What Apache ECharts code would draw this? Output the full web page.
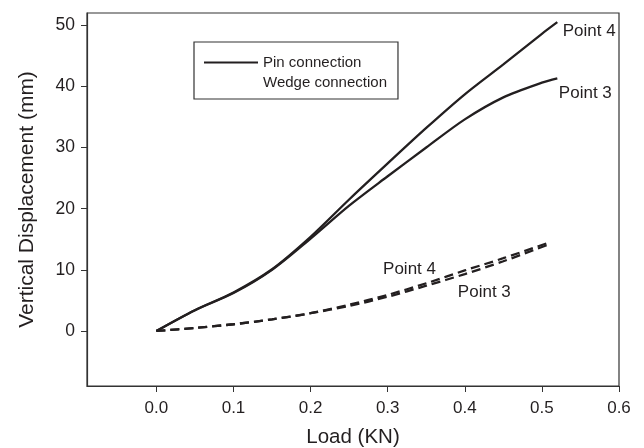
<!DOCTYPE html>
<html>
<head>
<meta charset="utf-8">
<script src="https://cdn.jsdelivr.net/npm/echarts@6/dist/echarts.min.js"></script>
<style>
  html, body { margin: 0; padding: 0; background: #fff; }
  #chart { width: 644px; height: 448px; }
</style>
</head>
<body>
<div id="chart"></div>
<script>
// load values (KN) and vertical displacement (mm)
const pinLoad = [0, 0.05, 0.1, 0.15, 0.2, 0.25, 0.3, 0.35, 0.4, 0.45, 0.5, 0.52];
const pinPoint4 = [0, 3.4, 6.3, 10.1, 15.4, 21.5, 27.4, 33.2, 38.7, 43.6, 48.6, 50.5];
const pinPoint3 = [0, 3.4, 6.2, 10.0, 15.1, 20.5, 25.3, 30.0, 34.6, 38.2, 40.6, 41.3];

const wedgeLoad = [0, 0.05, 0.1, 0.15, 0.2, 0.25, 0.3, 0.35, 0.4, 0.45, 0.51];
const wedgePoint4 = [0, 0.5, 1.1, 1.9, 2.9, 4.3, 5.9, 7.8, 9.9, 11.9, 14.5];
const wedgePoint3 = [0, 0.5, 1.1, 1.9, 2.9, 4.1, 5.6, 7.4, 9.3, 11.4, 14.2];

const xTicks = [0, 0.1, 0.2, 0.3, 0.4, 0.5, 0.6];
const yTicks = [0, 10, 20, 30, 40, 50];

// where the "Point" notes sit, in data units
const notePin4 = [0.527, 49.0];
const notePin3 = [0.522, 38.9];
const noteWedge4 = [0.294, 10.1];
const noteWedge3 = [0.391, 6.3];

const ink = '#231f20';
const font = 'Liberation Sans, Arial, sans-serif';

function pairs(xs, ys) {
    return xs.map(function (x, i) { return [x, ys[i]]; });
}

function note(text, coord) {
    return {
        symbol: 'circle',
        symbolSize: 0,
        silent: true,
        itemStyle: {color: 'transparent'},
        label: {
            show: true, position: 'right', distance: 0,
            color: ink, fontFamily: font, fontSize: 17,
            formatter: text
        },
        data: [{coord: coord}]
    };
}

function curve(name, xs, ys, dashed, mark) {
    return {
        name: name,
        type: 'line',
        smooth: 0.3,
        symbol: 'none',
        data: pairs(xs, ys),
        lineStyle: {color: ink, width: 2.3, type: dashed ? [9, 5] : 'solid'},
        itemStyle: {color: ink},
        markPoint: mark
    };
}

const chart = echarts.init(document.getElementById('chart'));
chart.setOption({
    animation: false,
    backgroundColor: '#fff',
    grid: {
        left: 87, right: 25, top: 13, bottom: 62,
        outerBoundsMode: 'none', containLabel: false,
        show: true, borderColor: '#333', borderWidth: 1.2
    },
    legend: {
        orient: 'vertical',
        left: 194, top: 42,
        padding: [13, 11, 9, 9],
        itemGap: 5,
        itemWidth: 54, itemHeight: 14,
        borderColor: '#333', borderWidth: 1.2,
        textStyle: {color: ink, fontFamily: font, fontSize: 15},
        data: [
            {name: 'Pin connection', itemStyle: {opacity: 0}},
            {name: 'Wedge connection', lineStyle: {opacity: 0}, itemStyle: {opacity: 0}}
        ]
    },
    xAxis: {
        type: 'value',
        min: -0.09, max: 0.6,
        name: 'Load (KN)',
        nameLocation: 'middle', nameGap: 41,
        nameTextStyle: {color: ink, fontFamily: font, fontSize: 20.5},
        splitLine: {show: false},
        axisLine: {show: true, onZero: false, lineStyle: {color: '#333', width: 1.2}},
        axisTick: {show: true, length: 6, customValues: xTicks, lineStyle: {color: '#333'}},
        axisLabel: {
            customValues: xTicks, margin: 14,
            color: ink, fontFamily: font, fontSize: 17,
            formatter: function (v) { return v.toFixed(1); }
        }
    },
    yAxis: {
        type: 'value',
        min: -9, max: 52,
        name: 'Vertical Displacement (mm)',
        nameLocation: 'middle', nameGap: 49,
        nameTextStyle: {color: ink, fontFamily: font, fontSize: 21},
        splitLine: {show: false},
        axisLine: {show: true, onZero: false, lineStyle: {color: '#333', width: 1.2}},
        axisTick: {show: true, length: 6, customValues: yTicks, lineStyle: {color: '#333'}},
        axisLabel: {
            customValues: yTicks, margin: 12,
            color: ink, fontFamily: font, fontSize: 17.5
        }
    },
    series: [
        curve('Pin connection', pinLoad, pinPoint4, false, note('Point 4', notePin4)),
        curve('Pin connection', pinLoad, pinPoint3, false, note('Point 3', notePin3)),
        curve('Wedge connection', wedgeLoad, wedgePoint4, true, note('Point 4', noteWedge4)),
        curve('Wedge connection', wedgeLoad, wedgePoint3, true, note('Point 3', noteWedge3))
    ]
});
</script>
</body>
</html>
